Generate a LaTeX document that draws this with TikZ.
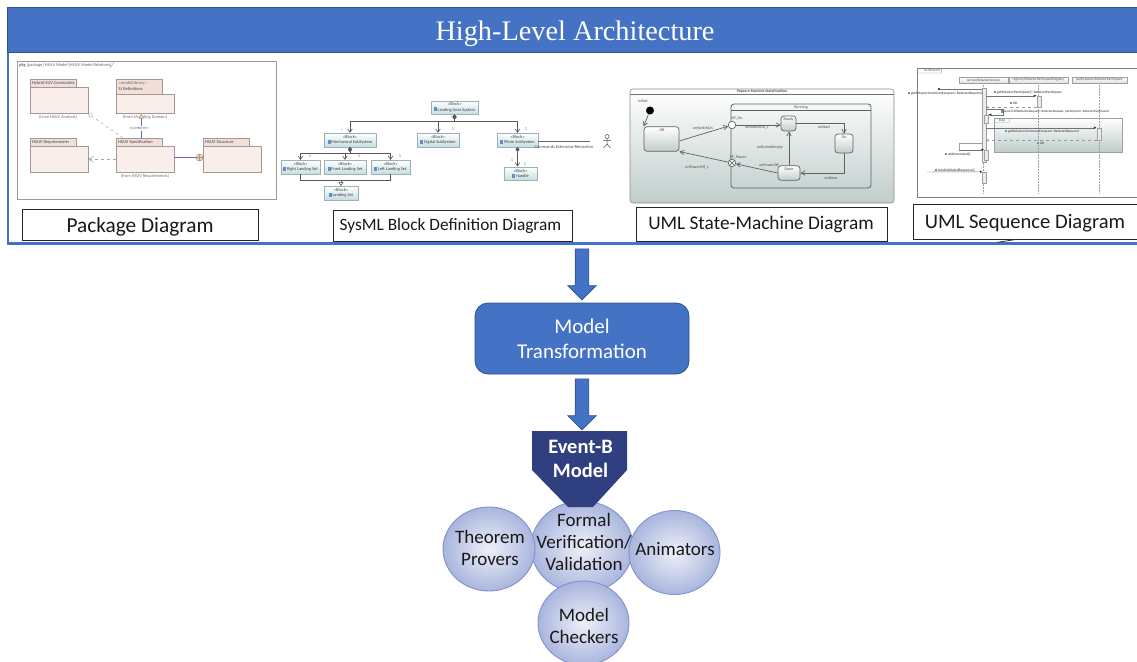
\documentclass[tikz,border=0pt]{standalone}
\usepackage{fontspec}
\setmainfont{Carlito}
\newfontfamily\titlefont{Liberation Serif}
\usetikzlibrary{arrows.meta,shapes.geometric,shapes.arrows}

\definecolor{mainblue}{HTML}{4472C4}
\definecolor{edgeblue}{HTML}{2F528F}
\definecolor{navyblue}{HTML}{2F3F80}
\definecolor{balledge}{HTML}{7F91CF}
\definecolor{ballout}{HTML}{A9B5DD}
\definecolor{ballin}{HTML}{EEF0F8}
\definecolor{pkgfill}{HTML}{F9EEEA}
\definecolor{pkgtab}{HTML}{F1DFD8}
\definecolor{pkgline}{HTML}{A49794}
\definecolor{tinygray}{HTML}{6E6E6E}
\definecolor{blockfill}{HTML}{C6DEE2}
\definecolor{blockline}{HTML}{9DB0B4}
\definecolor{smfill}{HTML}{BFCDCB}
\definecolor{smline}{HTML}{5C6462}
\definecolor{iconblue}{HTML}{5D8FC9}
\definecolor{seqline}{HTML}{9AA0A4}

\newcommand{\tinyfont}{\fontsize{4.4}{5.4}\selectfont}
\newcommand{\blockicon}{{\color{iconblue}\rule{3pt}{4pt}}\,}
\newcommand{\seqicon}{{\color{iconblue}\rule{2pt}{2.5pt}}\ }

\tikzset{
  capbox/.style={draw=black!85, line width=.7, fill=white, inner sep=0},
  captext/.style={text=black!90, inner sep=0},
  ballnode/.style={ellipse, draw=balledge, line width=.9, inner color=ballin, outer color=ballout, inner sep=0},
  balltext/.style={inner sep=0, align=center, text=black!90, font=\fontsize{19}{22}\selectfont},
  pkgbody/.style={draw=pkgline, line width=.5, fill=pkgfill, inner sep=0, minimum width=57.5, minimum height=26},
  pkgtabb/.style={draw=pkgline, line width=.5, fill=pkgtab, inner sep=0, minimum width=46},
  tinytext/.style={font=\tinyfont, text=tinygray, inner sep=0},
  blocknode/.style={draw=blockline, line width=.5, top color=white, bottom color=blockfill, inner sep=0,
    minimum height=13.5, align=center, font=\tinyfont, text=black!75},
  blockedge/.style={draw=black!65, line width=.6},
  smstate/.style={draw=smline, line width=.7, rounded corners=3, top color=white, bottom color=smfill, inner sep=0},
  smedge/.style={draw=smline, line width=.7, -{Straight Barb[length=4pt,width=4.5pt]}},
  smtext/.style={font=\fontsize{4}{5}\selectfont, text=black!70, inner sep=0},
  seqhead/.style={draw=seqline, line width=.5, top color=white, bottom color=black!12, inner sep=0,
    minimum height=6, font=\fontsize{3.6}{4}\selectfont, text=black!70},
  seqbar/.style={draw=seqline, line width=.5, fill=black!8, inner sep=0, minimum width=4},
  seqmsg/.style={draw=black!55, line width=.45, -{Latex[length=3pt,width=2.5pt,color=black!80]}},
  seqret/.style={draw=black!40, line width=.4, dashed, -{Straight Barb[length=2pt,width=2.5pt]}},
  seqtext/.style={font=\bfseries\fontsize{3.5}{4}\selectfont, text=black!65, inner sep=0},
  bigarrow/.style={single arrow, draw=edgeblue, line width=.6, fill=mainblue, inner sep=6.5,
    single arrow head extend=7.5, rotate=-90},
}

\begin{document}
\begin{tikzpicture}[x=1pt,y=-1pt]
\useasboundingbox (0,0) rectangle (1137,661);

% frame and banner
\draw[mainblue, line width=2.5] (8,52) -- (8,243.5) -- (1137,243.5);
\node[draw=edgeblue, line width=.8, fill=mainblue, minimum width=1130, minimum height=45, inner sep=0] (banner) at (572,29.5) {};
\node[text=white, font=\titlefont\fontsize{28.3}{32}\selectfont, inner sep=0] (bannertext) at (575,34) {High-Level Architecture};

% package diagram
\draw[draw=pkgline, line width=.7] (17,61) rectangle (276,199);
\draw[draw=pkgline, line width=.4] (115,61) -- (110,68);
\node[tinytext, anchor=west, text=black!60] (pkgframe) at (19,65) {\textbf{pkg} [package] HSUV Model [HSUV Model Relations]};

\node[pkgtabb, minimum height=8.5, anchor=north west] (hybridtab) at (30,79) {};
\node[pkgbody, anchor=north west] (hybrid) at (30,87) {};
\node[tinytext, anchor=west, font=\bfseries\tinyfont] (hybridtext) at (32,83) {Hybrid SUV Constraints};
\node[tinytext] (hybridfrom) at (58,117.5) {(from HSUV Analysis)};

\node[pkgtabb, minimum height=15, anchor=north west] (mdeftab) at (116,79) {};
\node[pkgbody, minimum height=19, anchor=north west] (mdef) at (116,94) {};
\node[tinytext, anchor=west, align=left] (mdeftext) at (118.5,86) {«modelLibrary»\\\textbf{SI Definitions}};
\node[tinytext] (mdeffrom) at (145,117.5) {(from Modeling Domain)};

\node[pkgtabb, minimum height=8.5, anchor=north west] (reqtab) at (30,138) {};
\node[pkgbody, anchor=north west] (req) at (30,146) {};
\node[tinytext, anchor=west, font=\bfseries\tinyfont] (reqtext) at (32,142) {HSUV Requirements};

\node[pkgtabb, minimum height=8.5, anchor=north west] (spectab) at (116,138) {};
\node[pkgbody, anchor=north west] (spec) at (116,146) {};
\node[tinytext, anchor=west, font=\bfseries\tinyfont] (spectext) at (118,142) {HSUV Specification};
\node[tinytext] (specfrom) at (145,176) {(from HSUV Requirements)};

\node[pkgtabb, minimum height=8.5, anchor=north west] (structtab) at (203,138) {};
\node[pkgbody, anchor=north west] (struct) at (203,146) {};
\node[tinytext, anchor=west, font=\bfseries\tinyfont] (structtext) at (205,142) {HSUV Structure};

\draw[black!35, line width=.5, dashed, -{Straight Barb[length=4pt,width=5pt]}] ([xshift=7]spectab.north west) -- (hybrid.south east);
\draw[black!35, line width=.6, dashed, -{Straight Barb[length=5pt,width=6pt]}] (spec.west) -- (req.east);
\draw[blockline!60!blue, line width=.5, -{Triangle[length=5pt,width=5pt,fill=orange!35,color=pkgline]}] ([xshift=2]spectab.north) -- ([xshift=2]spectab.north |- mdef.south);
\node[tinytext, fill=white, inner sep=.5] (conform) at (139,128.5) {«conform»};
\node[circle, draw=pkgline, line width=.5, fill=orange!35, minimum size=7, inner sep=0] (nest) at (199.5,157.5) {};
\draw[blockline!60!blue, line width=.5] (spec.east |- nest) -- (nest.west);
\draw[pkgline, line width=.4] (nest.north) -- (nest.south) (nest.west) -- (struct.west |- nest);

\node[capbox, minimum width=236, minimum height=31] (pkgcap) at (140,224.5) {};
\node[captext, font=\fontsize{21.3}{24}\selectfont] (pkgcaptext) at (140,226.5) {Package Diagram};

% block definition diagram
\node[blocknode, minimum width=47] (gearsys) at (454.5,107.5) {«Block»\\\blockicon Landing Gear System};
\node[blocknode, minimum width=52] (mech) at (350,140) {«Block»\\\blockicon Mechanical SubSystem};
\node[blocknode, minimum width=42] (digital) at (438,140) {«Block»\\\blockicon Digital SubSystem};
\node[blocknode, minimum width=41] (pilote) at (517.5,140) {«Block»\\\blockicon Pilote SubSystem};
\node[blocknode, minimum width=39] (rightset) at (300.5,167) {«Block»\\\blockicon Right Landing Set};
\node[blocknode, minimum width=42] (frontset) at (345,167) {«Block»\\\blockicon Front Landing Set};
\node[blocknode, minimum width=39] (leftset) at (390.5,167) {«Block»\\\blockicon Left Landing Set};
\node[blocknode, minimum width=34] (landset) at (341,193) {«Block»\\\blockicon Landing Set};
\node[blocknode, minimum width=33] (handle) at (520.5,173.5) {«Block»\\\blockicon Handle};

\tikzset{partedge/.style={blockedge, {Diamond[length=5pt,width=4pt]}-{Straight Barb[length=3.5pt,width=4.5pt]}}}
\draw[partedge] (gearsys.south) -- ++(0,7) -| (mech.north);
\draw[partedge] (gearsys.south) -- ++(0,7) -| (pilote.north);
\draw[partedge] (gearsys.south) -- ++(0,7) -| (digital.north);
\draw[partedge] (mech.south) -- ++(0,6) -| (rightset.north);
\draw[partedge] (mech.south) -- ++(0,6) -| (frontset.north);
\draw[partedge] (mech.south) -- ++(0,6) -| (leftset.north);
\draw[partedge] (pilote.south) -- (pilote.south |- handle.north);
\draw[blockedge] (rightset.south) -- ++(0,6) -| (leftset.south);
\draw[blockedge, -{Triangle[open,length=4pt,width=5pt]}] (rightset.south |- 0,180) -| (landset.north);

\node[tinytext] (m1) at (342,131) {*};
\node[tinytext] (m2) at (452,118) {*};
\node[tinytext] (m3) at (453,129) {1};
\node[tinytext] (m4) at (526,129) {1};
\node[tinytext] (m5) at (301,156) {*};
\node[tinytext] (m6) at (310,156) {1};
\node[tinytext] (m7) at (359,156) {1};
\node[tinytext] (m8) at (400,156) {1};
\node[tinytext] (m9) at (512,160) {1};
\node[tinytext] (m10) at (525,164) {1};

% actor
\node[circle, draw=black!70, line width=.5, minimum size=4, inner sep=0] (acthead) at (607,136.5) {};
\coordinate (acthip) at (607,144);
\coordinate (actarms) at (607,140.5);
\draw[black!70, line width=.5] (acthead.south) -- (acthip) -- ++(-3.5,4) (acthip) -- ++(3.5,4)
  (actarms) ++(-4,0) -- ++(8,0);
\draw[black!60, line width=.5] (pilote.east) ++(0,1) -- ++(52,0) coordinate (cmdend);
\node[tinytext, text=black!70] (cmdtext) at (564,147) {Commands Extension/Retraction};

\node[capbox, minimum width=239, minimum height=31] (bddcap) at (452.5,225.5) {};
\node[captext, font=\fontsize{17.3}{21}\selectfont] (bddcaptext) at (450.5,225.5) {SysML Block Definition Diagram};

% state machine
\node[draw=black!45, line width=.6, rounded corners=3, top color=white, bottom color=smfill,
  minimum width=264, minimum height=114, inner sep=0] (machine) at (762,146) {};
\draw[black!55, line width=.5] (machine.west |- 0,94) -- (machine.east |- 0,94);
\node[smtext, font=\bfseries\fontsize{3.8}{5}\selectfont] (machinetext) at (762,91.5) {Popcorn Machine StateMachine};
\node[draw=smline, line width=.8, rounded corners=3, minimum width=140, minimum height=84, inner sep=0] (running) at (801,146) {};
\draw[smline, line width=.6] (running.west |- 0,110) -- (running.east |- 0,110);
\node[smtext] (runningtext) at (801,107) {Running};

\node[circle, fill=black, minimum size=8, inner sep=0] (initial) at (650,110.5) {};
\node[smtext] (initialtext) at (643,101.5) {Initial};
\node[smstate, minimum width=35, minimum height=24.5] (off) at (661.5,139) {};
\node[smtext] (offtext) at (662,130) {Off};
\node[smstate, minimum width=15, minimum height=15] (ready) at (788.5,123.5) {};
\node[smtext] (readytext) at (788.5,119) {Ready};
\node[smstate, minimum width=18, minimum height=19] (oning) at (844,143.5) {};
\node[smtext] (ontext) at (844,137.5) {On};
\node[smstate, minimum width=22, minimum height=14.5] (done) at (789,173) {};
\node[smtext] (donetext) at (789,169) {Done};
\node[circle, draw=smline, line width=.7, fill=white, minimum size=7.5, inner sep=0] (epon) at (732,125) {};
\node[smtext] (epontext) at (737,118) {EP\_On};
\node[circle, draw=smline, line width=.7, fill=black!5, minimum size=7.5, inner sep=0] (eppower) at (732,163) {};
\draw[smline, line width=.5] (eppower.north west) -- (eppower.south east) (eppower.north east) -- (eppower.south west);
\node[smtext] (eppowertext) at (738,157.5) {EP\_Power};

\draw[smedge] (initial) -- (off.north west);
\draw[smedge] ([yshift=-2]off.east) -- (epon);
\draw[smedge] (epon) -- (ready.west |- epon);
\draw[smedge] (ready.east) -| (oning.north);
\draw[smedge] (oning.south) |- (done.east);
\draw[smedge] (done.north) -- (done.north |- ready.south);
\draw[smedge] (done.west) -- (eppower);
\draw[smedge] (eppower) -- (off.south east);
\node[smtext] (lab1) at (703,128) {onSwitchOn};
\node[smtext] (lab2) at (757,127.5) {onSwitchOn\_c};
\node[smtext] (lab3) at (824,127) {onStart};
\node[smtext] (lab4) at (831,178.5) {onDone};
\node[smtext] (lab5) at (770,147) {onBucketEmpty};
\node[smtext] (lab6) at (769,165) {onPowerOff};
\node[smtext] (lab7) at (697,167.5) {onPowerOff\_c};

\node[capbox, minimum width=251, minimum height=34] (smcap) at (762,224) {};
\node[captext, font=\fontsize{19.3}{22}\selectfont] (smcaptext) at (761,224.5) {UML State-Machine Diagram};

% sequence diagram
\draw[draw=black!50, line width=.6] (917,68) rectangle (1137,197);
\draw[draw=black!50, line width=.4] (917,73) -- (941,73) -- (942,68);
\node[seqtext, anchor=west, font=\fontsize{3.6}{4}\selectfont] (sdtext) at (924,70.5) {sd Refactor};

\node[seqhead, minimum width=49] (headone) at (983.5,80) {serviceRefactorService};
\node[seqhead, minimum width=59] (headtwo) at (1038.5,80) {registry:RefactorParticipantRegistry};
\node[seqhead, minimum width=55] (headthree) at (1099.5,80) {participants:RefactorParticipant};
\coordinate (lifeone) at (984,194);
\coordinate (lifetwo) at (1038,194);
\coordinate (lifethree) at (1099,194);
\draw[seqline, densely dotted, line width=.5] (headone.south) -- (headone.south |- lifeone);
\draw[seqline, densely dotted, line width=.5] (headtwo.south) -- (headtwo.south |- lifetwo);
\draw[seqline, densely dotted, line width=.5] (headthree.south) -- (headthree.south |- lifethree);

\node[draw=seqline, line width=.6, top color=white, bottom color=smfill, minimum width=128, minimum height=34, inner sep=0] (loopbox) at (1058,135) {};
\draw[seqline, line width=.4] (994,122.5) -- (1009,122.5) -- (1010,118);
\node[seqtext, font=\fontsize{3.6}{4}\selectfont] (looptext) at (1002,120.3) {loop};
\draw[seqline, densely dotted, line width=.5] (headtwo.south |- loopbox.north) -- (headtwo.south |- loopbox.south);
\draw[seqline, densely dotted, line width=.5] (headthree.south |- loopbox.north) -- (headthree.south |- loopbox.south);

\node[seqbar, minimum height=74] (barmain) at (984,125) {};
\node[seqbar, minimum height=11] (bartwo) at (1039,101.5) {};
\node[seqbar, minimum height=8] (barself) at (986,119) {};
\node[seqbar, minimum height=10] (baradd) at (986.5,155) {};
\node[seqbar, minimum height=11] (barend) at (984,177.5) {};
\node[seqbar, minimum height=12] (barthree) at (1099,134) {};

\coordinate (callin) at (938,89);
\coordinate (callout) at (927,172);
\coordinate (selfa) at (1003,109);
\coordinate (selfb) at (959,143);
\draw[seqmsg, {Circle[length=2pt,color=black!80]}-] (callin) -- (callin -| barmain.west);
\draw[seqmsg] (barmain.east |- bartwo.north) -- (bartwo.north west);
\draw[seqret] (bartwo.south west) -- (barmain.east |- bartwo.south west);
\draw[seqmsg] (barmain.east |- selfa) -- (selfa) -- (selfa |- barself.north) -- (barself.north east);
\draw[seqmsg] (barmain.east |- barthree.north) -- (barthree.north west);
\draw[seqret] (barthree.south west) -- (barmain.east |- barthree.south west);
\draw[seqline, line width=.5] (barmain.west |- selfb) -- (selfb) -- (selfb |- baradd.north);
\draw[seqmsg] (selfb |- baradd.north) -- (baradd.north west);
\draw[seqmsg, {Circle[length=2pt,color=black!80]}-] (barend.north west) -- (callout);

\node[seqtext, anchor=west] (msgone) at (908,93) {\seqicon getRefactorCommand(request: RefactorRequest)};
\node[seqtext, anchor=west] (msgtwo) at (994,92) {\seqicon getRefactorParticipant(): RefactorParticipant};
\node[seqtext, anchor=west] (msgok) at (1010,103) {\seqicon OK};
\node[seqtext, anchor=west, font=\bfseries\fontsize{3.2}{4}\selectfont] (msgfill) at (1001,112) {\seqicon launch fill(RefactorRequest: RefactorRequest, participants: RefactorParticipant)};
\node[seqtext, anchor=west] (msgget) at (1005,131) {\seqicon getRefactorCommand(request: RefactorRequest)};
\node[seqtext, anchor=west] (msgoktwo) at (1037,143) {\seqicon OK};
\node[seqtext, anchor=west] (msgadd) at (945,154) {\seqicon addCommand()};
\node[seqtext, anchor=west] (msgsend) at (935,170) {\seqicon sendValidatedResponse()};

\node[capbox, minimum width=226, minimum height=35, anchor=west] (seqcap) at (913,221.5) {};
\node[captext, font=\fontsize{20.6}{24}\selectfont] (seqcaptext) at (1025,223) {UML Sequence Diagram};
\draw[black!80, line width=.8] (seqcap.south west) ++(84,3) -- ++(20,-3);

% lower flow
\node[bigarrow, minimum height=51] (arrowtop) at (582,271) {};
\node[draw=edgeblue, line width=.8, fill=mainblue, rounded corners=13, minimum width=214, minimum height=71, inner sep=0] (transform) at (582,338.5) {};
\node[inner sep=0, text=white, align=center, font=\fontsize{21}{25}\selectfont] (transformtext) at (582,339) {Model\\Transformation};
\node[bigarrow, minimum height=51] (arrowlow) at (582,401) {};

\node[ballnode, minimum width=102, minimum height=92] (formal) at (582,547) {};
\node[balltext] (formaltext) at (584,541.5) {Formal\\Verification/\\Validation};
\node[ballnode, minimum width=92, minimum height=84] (theorem) at (489,549) {};
\node[balltext] (theoremtext) at (490,548) {Theorem\\Provers};
\node[ballnode, minimum width=91, minimum height=84] (animators) at (674.5,552.5) {};
\node[balltext] (animatorstext) at (675,549.5) {Animators};
\node[ballnode, minimum width=91, minimum height=84] (checkers) at (583.5,623) {};
\node[balltext] (checkerstext) at (584,625.5) {Model\\Checkers};

\fill[navyblue] (532,431) -- (627,431) -- (627,470) -- (593,507) -- (568,507) -- (532,470) -- cycle;
\node[inner sep=0, text=white, align=center, font=\bfseries\fontsize{20.5}{24.7}\selectfont] (eventb) at (580.5,459) {Event-B\\Model};

\end{tikzpicture}
\end{document}
